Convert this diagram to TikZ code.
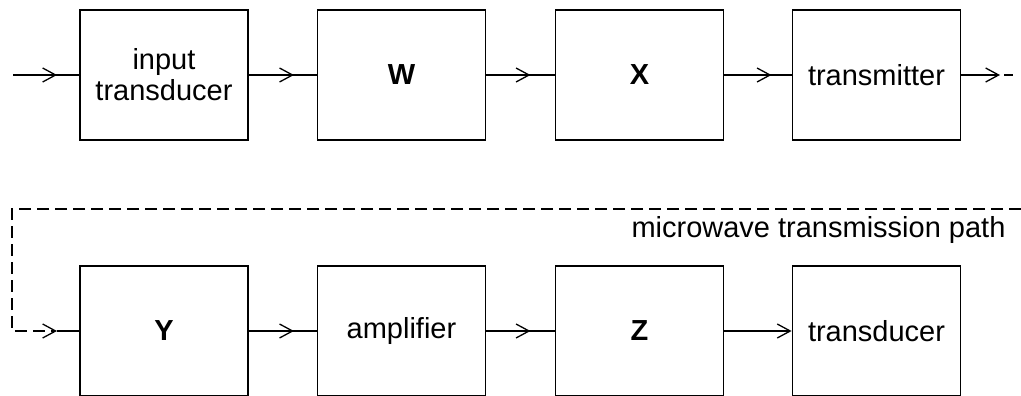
\documentclass[tikz,border=0pt]{standalone}
\usepackage{fontspec}
\setmainfont{Liberation Sans}
\usetikzlibrary{arrows.meta,decorations.markings}
\begin{document}
\begin{tikzpicture}[x=1pt,y=-1pt,
  blk/.style={draw, line width=1.8pt, minimum width=168pt, minimum height=130pt, inner sep=0pt,
    font=\fontsize{29}{31}\selectfont, align=center},
  lbl/.style={font=\fontsize{29}{31}\selectfont},
  conn/.style={line width=1.3pt},
  barb/.tip={Straight Barb[length=13pt,width=14pt,line width=1.3pt]},
  midarrow/.style={postaction={decorate}, decoration={markings,
    mark=at position #1 with {\arrow{barb}}}},
  dashline/.style={line width=1.3pt, dash pattern=on 12pt off 6pt}]
\useasboundingbox (0,0) rectangle (1021,396);
% top row
\node[blk] (A) at (164,75) {input\\transducer};
\node[blk] (W) at (401.5,75) {\textbf{W}};
\node[blk] (X) at (639.5,75) {\textbf{X}};
\node[blk] (T) at (876.5,75) {transmitter};
% bottom row
\node[blk] (Y) at (164,331) {\textbf{Y}};
\node[blk] (M) at (401.5,331) {amplifier};
\node[blk] (Z) at (639.5,331) {\textbf{Z}};
\node[blk] (R) at (876.5,331) {transducer};
\node[lbl, anchor=base east] (L) at (1009,237) {microwave transmission path};
% free ends
\coordinate (in) at (13,75);
\coordinate (tout) at (1000,75);
\coordinate (tdash1) at (1004,75);
\coordinate (tdash2) at (1013,75);
\coordinate (dR) at (1021,209);
\coordinate (dL) at (12,209);
\coordinate (ytip) at (57,331);
% connectors
\draw[conn, midarrow=44pt] (in) -- (A.west);
\draw[conn, midarrow=45pt] (A.east) -- (W.west);
\draw[conn, midarrow=44pt] (W.east) -- (X.west);
\draw[conn, midarrow=47pt] (X.east) -- (T.west);
\draw[conn, -{barb}] (T.east) -- (tout);
\draw[conn] (tdash1) -- (tdash2);
\draw[dashline, -{barb}] (dR) -- (dL) |- (ytip);
\draw[conn] (ytip) -- (Y.west);
\draw[conn, midarrow=45pt] (Y.east) -- (M.west);
\draw[conn, midarrow=44pt] (M.east) -- (Z.west);
\draw[conn, -{barb}] (Z.east) -- (R.west);
\end{tikzpicture}
\end{document}
